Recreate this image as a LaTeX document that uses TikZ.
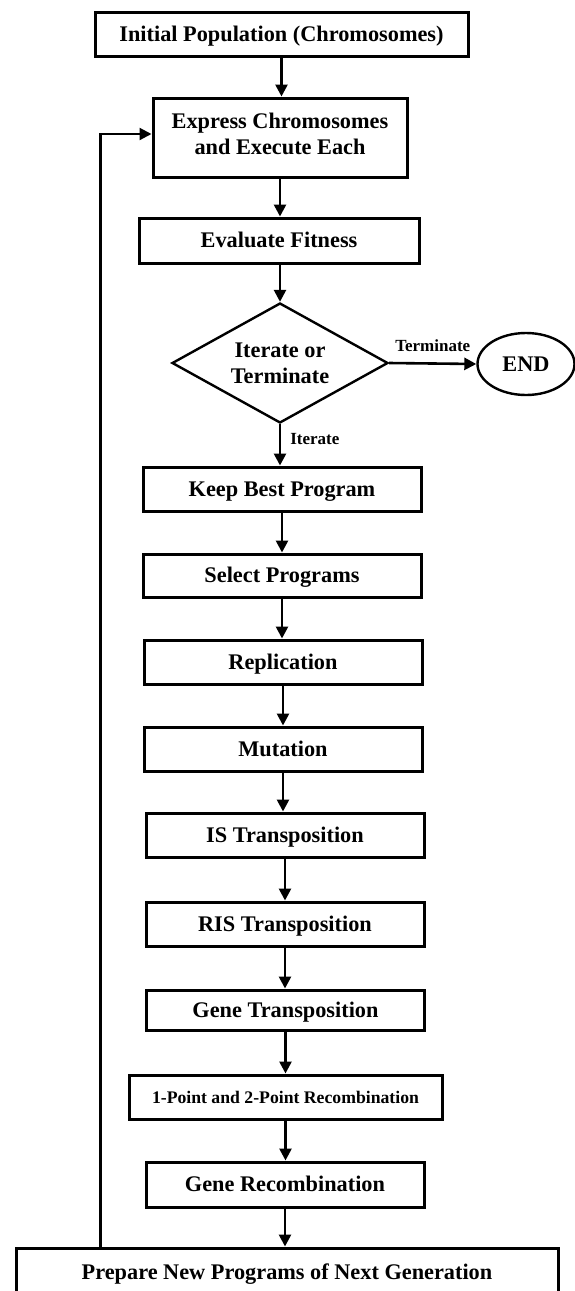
\documentclass[tikz,border=0pt]{standalone}
\usepackage{fontspec}
\setmainfont{Liberation Serif}
\usetikzlibrary{arrows.meta,shapes.geometric,calc}
\begin{document}
\begin{tikzpicture}[x=1pt,y=-1pt,
  box/.style={draw,line width=3pt,rectangle,inner sep=0pt,align=center,
    font=\fontsize{22.3}{26}\selectfont\bfseries},
  one/.style={text height=14.7pt,text depth=0pt},
  stdbox/.style={box,one,minimum width=278pt,minimum height=44pt},
  arr/.style={line width=2.6pt,-{Triangle[length=12pt,width=12pt]}},
  lbl/.style={font=\fontsize{17}{20}\selectfont\bfseries,inner sep=0pt}]
\useasboundingbox (0,0) rectangle (575,1291);

\node[box,one,minimum width=373pt,minimum height=44pt] (init) at (281.5,34) {Initial Population (Chromosomes)};
\node[box,text depth=8pt,minimum width=254pt,minimum height=79pt] (expr) at (280,137.5) {Express Chromosomes\\and Execute Each};
\node[box,one,minimum width=280pt,minimum height=45pt] (eval) at (279,240.5) {Evaluate Fitness};
\node[draw,diamond,aspect=1.8,line width=2.4pt,inner sep=0pt,minimum width=216pt,minimum height=120pt,
  align=center,font=\fontsize{22.3}{26}\selectfont\bfseries] (dec) at (280,363) {Iterate or\\Terminate};
\node[draw,ellipse,line width=2.4pt,inner sep=0pt,minimum width=97pt,minimum height=62pt,one,
  font=\fontsize{22.3}{26}\selectfont\bfseries] (end) at (526,364) {END};
\node[stdbox] (keep) at (282,489) {Keep Best Program};
\node[stdbox,minimum height=43pt] (sel) at (282,575.5) {Select Programs};
\node[stdbox] (rep) at (283,662) {Replication};
\node[stdbox] (mut) at (283,749) {Mutation};
\node[stdbox] (is) at (285,835) {IS Transposition};
\node[stdbox] (ris) at (285,924) {RIS Transposition};
\node[stdbox,minimum height=40pt] (gt) at (285.5,1010) {Gene Transposition};
\node[box,text height=12pt,text depth=0pt,minimum width=313pt,minimum height=44pt,font=\fontsize{17.7}{21}\selectfont\bfseries] (op) at (285.5,1097) {1-Point and 2-Point Recombination};
\node[stdbox,minimum height=45pt] (gr) at (285,1184.5) {Gene Recombination};
\node[box,one,minimum width=542pt,minimum height=48pt] (prep) at (287,1272) {Prepare New Programs of Next Generation};

\draw[arr] (init.south) -- (init.south |- expr.north);
\draw[arr] (expr.south) -- (expr.south |- eval.north);
\draw[arr] (eval.south -| dec.north) -- (dec.north);
\draw[arr] (dec.east) -- (end.west) node[midway,above=11pt,lbl] {Terminate};
\draw[arr] (dec.south) -- (dec.south |- keep.north) node[pos=0.35,right=9pt,lbl] {Iterate};
\draw[arr] (keep.south) -- (keep.south |- sel.north);
\draw[arr] (sel.south) -- (sel.south |- rep.north);
\draw[arr] (rep.south) -- (rep.south |- mut.north);
\draw[arr] (mut.south) -- (mut.south |- is.north);
\draw[arr] (is.south) -- (is.south |- ris.north);
\draw[arr] (ris.south) -- (ris.south |- gt.north);
\draw[arr] (gt.south) -- (gt.south |- op.north);
\draw[arr] (op.south) -- (op.south |- gr.north);
\draw[arr] (gr.south) -- (gr.south |- prep.north);
\draw[arr,line width=2.2pt] ([xshift=86pt]prep.north west) |- ([yshift=3.5pt]expr.west);
\end{tikzpicture}
\end{document}
